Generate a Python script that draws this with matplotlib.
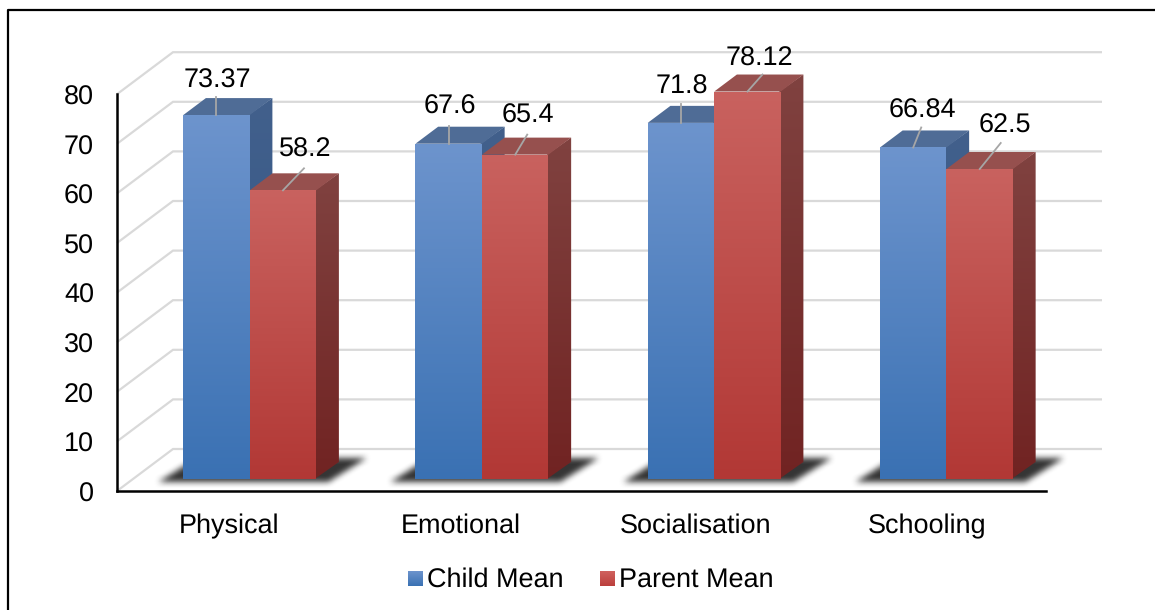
import numpy as np
import matplotlib
matplotlib.use("Agg")
import matplotlib.pyplot as plt
from matplotlib.colors import to_rgb
from matplotlib.patches import Polygon

plt.rcParams["text.hinting"] = "no_hinting"
plt.rcParams["text.hinting_factor"] = 1

categories = ["Physical", "Emotional", "Socialisation", "Schooling"]
child_mean = [73.37, 67.6, 71.8, 66.84]
parent_mean = [58.2, 65.4, 78.12, 62.5]
child_labels = ["73.37", "67.6", "71.8", "66.84"]
parent_labels = ["58.2", "65.4", "78.12", "62.5"]
y_ticks = [0, 10, 20, 30, 40, 50, 60, 70, 80]
series_names = ["Child Mean", "Parent Mean"]

# pixels per data unit, the axes fill the whole figure
PX_X = 232.25
PX_Y = 4.96
X0 = 117
Y0 = 491
W, H = 1155, 610
# depth of the box as a shear, d=1 is the back wall
DX = 56 / PX_X
DY = 42 / PX_Y
BAR_D = 12 / 42
BAR_DEPTH = 17 / 42
BAR_W = 66.5 / PX_X
BAR_SHIFT = 0.6 / PX_X
FONT_SIZE = 19.2

# label offsets from the top centre of each bar front, in pixels
child_label_off = [(0, 35), (0, 37), (0, 37), (8, 37)]
parent_label_off = [(21, 41), (12, 39), (11, 33), (24, 44)]
child_lead_off = [(0, 18), (0, 18), (0, 19), (8, 20)]
parent_lead_off = [(21, 22), (12, 20), (15, 17), (21, 26)]
cat_label_off = [-4.5, -5, -2.5, -3]


def to(x, v, d=0.0):
    return x + d * DX, v + d * DY


def gradient_poly(ax, verts, top, bottom, zorder):
    verts = np.array(verts)
    grad = np.linspace(to_rgb(top), to_rgb(bottom), 256).reshape(256, 1, 3)
    ext = [verts[:, 0].min(), verts[:, 0].max(), verts[:, 1].min(), verts[:, 1].max()]
    im = ax.imshow(grad, extent=ext, aspect="auto", origin="upper", zorder=zorder,
                   interpolation="bilinear")
    im.set_clip_path(Polygon(verts, closed=True, transform=ax.transData))


def blur(a, n):
    kernel = np.ones(n) / n
    for _ in range(2):
        a = np.apply_along_axis(lambda r: np.convolve(r, kernel, mode="same"), 0, a)
        a = np.apply_along_axis(lambda r: np.convolve(r, kernel, mode="same"), 1, a)
    return a


def floor_shadow():
    # 240x50 px patch, skewed like the floor
    yy, xx = np.mgrid[0:50, 0:240]
    left = 8 + (42 - yy) * 1.6
    right = 178 + (42 - yy) * 1.6
    mask = ((xx > left) & (xx < right) & (yy > 17) & (yy < 42)).astype(float)
    a = blur(mask, 7)
    rgba = np.zeros((50, 240, 4))
    rgba[..., :3] = 0.12
    rgba[..., 3] = a * 0.9
    return rgba


def draw_bar(ax, x, value, front, side, roof):
    x1 = x + BAR_W
    d0, d1 = BAR_D, BAR_D + BAR_DEPTH
    seam = 1.5 / PX_X
    gradient_poly(ax, [to(x, 0, d0), to(x1, 0, d0), to(x1, value, d0), to(x, value, d0)],
                  front[0], front[1], 4)
    gradient_poly(ax, [to(x1 - seam, 0, d0), to(x1, 0, d1), to(x1, value, d1), to(x1 - seam, value, d0)],
                  side[0], side[1], 3.5)
    ax.add_patch(Polygon([to(x, value, d0), to(x1, value, d0), to(x1, value, d1), to(x, value, d1)],
                         closed=True, fc=roof, ec="none", zorder=3.5))


fig = plt.figure(figsize=(W / 100, H / 100), dpi=100)
ax = fig.add_axes([0, 0, 1, 1])
ax.axis("off")
xlim = (-0.5 - X0 / PX_X, -0.5 + (W - X0) / PX_X)
ylim = (-(H - Y0) / PX_Y, Y0 / PX_Y)
font = "Liberation Sans"

px_x = lambda p: -0.5 + (p - X0) / PX_X
px_y = lambda p: (Y0 - p) / PX_Y

# frame around the picture, open at the bottom
ax.plot([px_x(8), px_x(8), px_x(1155)], [px_y(610), px_y(10), px_y(10)], color="black", lw=1.6, zorder=1)

# walls
for v in y_ticks:
    xs, ys = zip(to(-0.5, v), to(-0.5, v, 1), to(3.5, v, 1))
    ax.plot(xs, ys, color="#d9d9d9", lw=1.6, zorder=1, solid_joinstyle="miter", solid_capstyle="butt")

for i in range(len(categories)):
    patch_left = px_x(X0 + (i + 0.5) * PX_X - 84)
    ax.imshow(floor_shadow(), extent=[patch_left, patch_left + 240 / PX_X, px_y(490), px_y(440)],
              aspect="auto", zorder=2, interpolation="bilinear")
    draw_bar(ax, i - BAR_W + BAR_SHIFT, child_mean[i], ("#6d94cd", "#3a71b3"), ("#42608c", "#2f5585"), "#4f6c96")
    draw_bar(ax, i + BAR_SHIFT, parent_mean[i], ("#c9625f", "#b23835"), ("#804240", "#712322"), "#96504e")

    for val, txt, lab, lead, xs in [
        (child_mean[i], child_labels[i], child_label_off[i], child_lead_off[i], i - BAR_W / 2),
        (parent_mean[i], parent_labels[i], parent_label_off[i], parent_lead_off[i], i + BAR_W / 2),
    ]:
        bx, by = to(xs + BAR_SHIFT, val, BAR_D)
        ax.plot([bx, bx + lead[0] / PX_X], [by, by + lead[1] / PX_Y], color="#a6a6a6", lw=1.3, zorder=5)
        ax.text(bx + (lab[0] + 1) / PX_X, by + (lab[1] - 7.5) / PX_Y, txt, ha="center", va="baseline",
                fontsize=FONT_SIZE, family=font, color="black", zorder=6)

    ax.text(i + cat_label_off[i] / PX_X, px_y(533), categories[i], ha="center", va="baseline",
            fontsize=FONT_SIZE, family=font, color="black")

# front axes
ax.plot([-0.5, -0.5], [0, 80], color="black", lw=1.8, zorder=7, solid_capstyle="projecting")
ax.plot([-0.5, 3.5], [0, 0], color="black", lw=1.8, zorder=7, solid_capstyle="projecting")
for v in y_ticks:
    ax.text(px_x(94), v - 10.5 / PX_Y, str(v), ha="right", va="baseline", fontsize=FONT_SIZE, family=font, color="black")

# legend
legend_x = [408, 600]
legend_col = [("#6d94cd", "#3a71b3"), ("#d0625f", "#bb3f3c")]
for name, lx, col in zip(series_names, legend_x, legend_col):
    gradient_poly(ax, [(px_x(lx), px_y(586)), (px_x(lx + 14.5), px_y(586)),
                       (px_x(lx + 14.5), px_y(571)), (px_x(lx), px_y(571))], col[0], col[1], 4)
    ax.text(px_x(lx + 19), px_y(587), name, ha="left", va="baseline", fontsize=FONT_SIZE, family=font, color="black")

ax.set_xlim(xlim)
ax.set_ylim(ylim)
fig.savefig("out.png", dpi=100, facecolor="white")
